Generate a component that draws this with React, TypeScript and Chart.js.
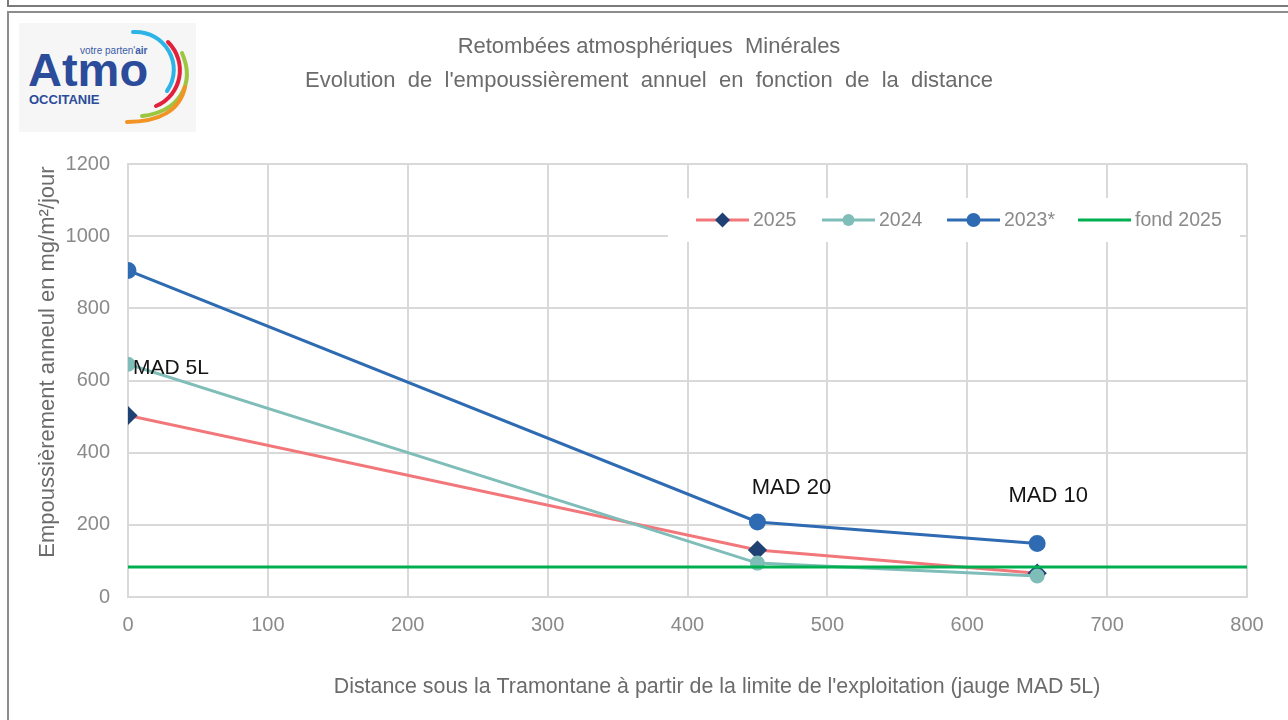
import React, { useEffect, useRef } from "react";
import { Chart, registerables } from "chart.js";

Chart.register(...registerables);

// ---------- Data ----------
const distances = [0, 450, 650];
const values2025 = [503, 130, 66];
const values2024 = [645, 94, 58];
const values2023 = [905, 208, 148];
const fondDistances = [0, 800];
const fond2025 = [83, 83];
const seriesNames = ["2025", "2024", "2023*", "fond 2025"];
const siteLabels = ["MAD 5L", "MAD 20", "MAD 10"];
const titleLines = [
  "Retombées atmosphériques  Minérales",
  "Evolution  de  l'empoussièrement  annuel  en  fonction  de  la  distance",
];
const yAxisTitle = "Empoussièrement anneul en mg/m²/jour";
const xAxisTitle =
  "Distance sous la Tramontane à partir de la limite de l'exploitation (jauge MAD 5L)";
const xMin = 0;
const xMax = 800;
const xStep = 100;
const yMin = 0;
const yMax = 1200;
const yStep = 200;

// ---------- Styles ----------
const FONT = '"Liberation Sans", Arial, sans-serif';
const C2025 = "#F2777A";
const C2025_MARK = "#1F4173";
const C2024 = "#7FBDB8";
const C2023 = "#2E6BB2";
const CFOND = "#00B050";
const GRID = "#D9D9D9";
const TICK = "#8A8A8A";
const TXT = "#6B6B6B";

// label anchors: series index used + pixel offsets (style only)
const labelAnchors = [
  { ds: 1, idx: 0, dx: 5, dy: 4, align: "left" as CanvasTextAlign },
  { ds: 2, idx: 1, dx: 34, dy: -34, align: "center" as CanvasTextAlign },
  { ds: 2, idx: 2, dx: 11, dy: -48, align: "center" as CanvasTextAlign },
];

const decorPlugin = {
  id: "decor",
  afterDraw(chart: any) {
    const ctx: CanvasRenderingContext2D = chart.ctx;
    ctx.save();
    // Title
    ctx.fillStyle = TXT;
    ctx.font = `22px ${FONT}`;
    ctx.textAlign = "center";
    ctx.textBaseline = "middle";
    ctx.fillText(titleLines[0], 649, 47);
    ctx.fillText(titleLines[1], 649, 81);
    // X axis title
    ctx.font = `21.4px ${FONT}`;
    ctx.fillText(xAxisTitle, 717, 687);
    // Y axis title
    ctx.save();
    ctx.translate(48, 362);
    ctx.rotate(-Math.PI / 2);
    ctx.font = `22px ${FONT}`;
    ctx.fillText(yAxisTitle, 0, 0);
    ctx.restore();

    // Site labels
    ctx.fillStyle = "#141414";
    labelAnchors.forEach((a, i) => {
      const meta = chart.getDatasetMeta(a.ds);
      const pt = meta.data[a.idx];
      if (!pt) return;
      ctx.font = `${i === 0 ? 21 : 22}px ${FONT}`;
      ctx.textAlign = a.align;
      ctx.fillText(siteLabels[i], pt.x + a.dx, pt.y + a.dy);
    });

    // Legend box
    ctx.fillStyle = "#FFFFFF";
    ctx.fillRect(668, 198, 572, 44);
    const cy = 220;
    const items = [
      { x: 696, ds: 0 },
      { x: 822, ds: 1 },
      { x: 947, ds: 2 },
      { x: 1078, ds: 3 },
    ];
    ctx.font = `19.5px ${FONT}`;
    ctx.textAlign = "left";
    items.forEach((it) => {
      const d = chart.data.datasets[it.ds];
      ctx.strokeStyle = d.borderColor;
      ctx.lineWidth = 3;
      ctx.beginPath();
      ctx.moveTo(it.x, cy);
      ctx.lineTo(it.x + 53, cy);
      ctx.stroke();
      const mx = it.x + 26.5;
      if (d.pointRadius > 0) {
        ctx.fillStyle = d.pointBackgroundColor;
        ctx.beginPath();
        if (d.pointStyle === "rectRot") {
          const r = d.pointRadius;
          ctx.moveTo(mx, cy - r);
          ctx.lineTo(mx + r, cy);
          ctx.lineTo(mx, cy + r);
          ctx.lineTo(mx - r, cy);
          ctx.closePath();
        } else {
          ctx.arc(mx, cy, d.pointRadius, 0, Math.PI * 2);
        }
        ctx.fill();
      }
      ctx.fillStyle = "#8A8A8A";
      ctx.fillText(d.label, it.x + 57, cy + 1);
    });
    ctx.restore();
  },
};

function toPoints(xs: number[], ys: number[]) {
  return xs.map((x, i) => ({ x, y: ys[i] }));
}

export default function App() {
  const ref = useRef<HTMLCanvasElement | null>(null);

  useEffect(() => {
    document.body.style.margin = "0";
    const canvas = ref.current!;
    const chart = new Chart(canvas, {
      type: "line",
      data: {
        datasets: [
          {
            label: seriesNames[0],
            data: toPoints(distances, values2025),
            borderColor: C2025,
            backgroundColor: C2025_MARK,
            pointBackgroundColor: C2025_MARK,
            pointBorderColor: C2025_MARK,
            pointStyle: "rectRot",
            pointRadius: 7.5,
            borderWidth: 3,
            order: 3,
          } as any,
          {
            label: seriesNames[1],
            data: toPoints(distances, values2024),
            borderColor: C2024,
            backgroundColor: C2024,
            pointBackgroundColor: C2024,
            pointBorderColor: C2024,
            pointStyle: "circle",
            pointRadius: 6,
            borderWidth: 3,
            order: 2,
          },
          {
            label: seriesNames[2],
            data: toPoints(distances, values2023),
            borderColor: C2023,
            backgroundColor: C2023,
            pointBackgroundColor: C2023,
            pointBorderColor: C2023,
            pointStyle: "circle",
            pointRadius: 7,
            borderWidth: 3,
            order: 1,
          },
          {
            label: seriesNames[3],
            data: toPoints(fondDistances, fond2025),
            borderColor: CFOND,
            backgroundColor: CFOND,
            pointRadius: 0,
            borderWidth: 3,
            order: 0,
          },
        ],
      },
      options: {
        responsive: false,
        animation: false,
        devicePixelRatio: 1,
        layout: { padding: { left: 0, right: 41, top: 164, bottom: 0 } },
        elements: { line: { tension: 0 }, point: { borderWidth: 0, hoverRadius: 7 } },
        plugins: {
          legend: { display: false },
          title: { display: false },
          tooltip: { enabled: false },
        },
        scales: {
          x: {
            type: "linear",
            min: xMin,
            max: xMax,
            ticks: {
              stepSize: xStep,
              color: TICK,
              padding: 16,
              font: { family: FONT, size: 20 },
              maxRotation: 0,
              callback: (v: any) => String(v),
            },
            grid: { color: GRID, lineWidth: 2, drawTicks: false },
            border: { color: GRID, width: 2 },
            afterFit: (s: any) => {
              s.height = 123;
            },
          } as any,
          y: {
            type: "linear",
            min: yMin,
            max: yMax,
            ticks: {
              stepSize: yStep,
              color: TICK,
              padding: 18,
              font: { family: FONT, size: 20 },
              callback: (v: any) => String(v),
            },
            grid: { color: GRID, lineWidth: 2, drawTicks: false },
            border: { color: GRID, width: 2 },
            afterFit: (s: any) => {
              s.width = 128;
            },
          } as any,
        },
      },
      plugins: [decorPlugin],
    });
    return () => chart.destroy();
  }, []);

  return (
    <div
      style={{
        position: "fixed",
        left: 0,
        top: 0,
        width: 1288,
        height: 720,
        background: "#fff",
        overflow: "hidden",
      }}
    >
      <canvas
        ref={ref}
        width={1288}
        height={720}
        style={{ position: "absolute", left: 0, top: 0, width: 1288, height: 720 }}
      />
      {/* frames */}
      <div
        style={{
          position: "absolute",
          left: 7,
          top: -18,
          width: 1320,
          height: 21,
          border: "2px solid #7A7A7A",
          pointerEvents: "none",
        }}
      />
      <div
        style={{
          position: "absolute",
          left: 7,
          top: 11,
          width: 1320,
          height: 760,
          border: "2px solid #8C8C8C",
          pointerEvents: "none",
        }}
      />
      {/* logo */}
      <svg
        width={200}
        height={140}
        style={{ position: "absolute", left: 0, top: 0 }}
      >
        <rect x={19} y={23} width={177} height={109} fill="#F6F6F6" />
        <text
          x={80}
          y={54}
          fontSize={10}
          fill="#3C5CA8"
          fontFamily='"Liberation Sans", Arial, sans-serif'
        >
          votre parten'<tspan fontWeight="bold">air</tspan>
        </text>
        <text
          x={28}
          y={86}
          fontSize={47}
          fontWeight="bold"
          fill="#2B4B9B"
          fontFamily='"Liberation Sans", Arial, sans-serif'
        >
          Atmo
        </text>
        <text
          x={29}
          y={104}
          fontSize={13}
          fontWeight="bold"
          fill="#2B4B9B"
          fontFamily='"Liberation Sans", Arial, sans-serif'
        >
          OCCITANIE
        </text>
        <path d="M 133 32 C 165 30, 185 65, 167 91" stroke="#2DB4E6" strokeWidth={4} fill="none" strokeLinecap="round" />
        <path d="M 168 42 C 188 62, 182 95, 156 106" stroke="#E2213D" strokeWidth={4} fill="none" strokeLinecap="round" />
        <path d="M 182 53 C 196 85, 178 112, 142 116" stroke="#9CC63F" strokeWidth={4} fill="none" strokeLinecap="round" />
        <path d="M 185 87 C 180 110, 160 122, 127 122" stroke="#F29325" strokeWidth={4} fill="none" strokeLinecap="round" />
      </svg>
    </div>
  );
}
